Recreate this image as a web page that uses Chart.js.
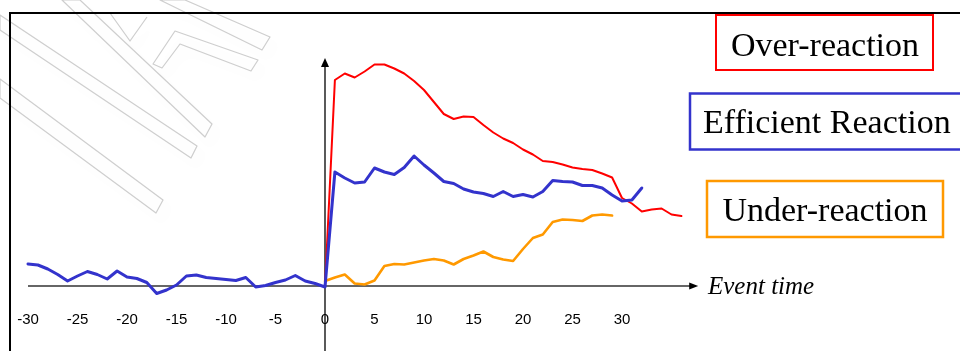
<!DOCTYPE html>
<html>
<head>
<meta charset="utf-8">
<style>
  html, body { margin: 0; padding: 0; background: #ffffff; overflow: hidden; }
  #wrap { width: 960px; height: 351px; position: relative; }
</style>
</head>
<body>
<div id="wrap"><canvas id="c" width="960" height="351"></canvas></div>
<script src="https://cdn.jsdelivr.net/npm/chart.js@4/dist/chart.umd.min.js"></script>
<script>
// Event days relative to the announcement (day 0)
const days = [
  -30, -29, -28, -27, -26, -25, -24, -23, -22, -21,
  -20, -19, -18, -17, -16, -15, -14, -13, -12, -11,
  -10, -9, -8, -7, -6, -5, -4, -3, -2, -1,
  0, 1, 2, 3, 4, 5, 6, 7, 8, 9,
  10, 11, 12, 13, 14, 15, 16, 17, 18, 19,
  20, 21, 22, 23, 24, 25, 26, 27, 28, 29,
  30, 31, 32, 33, 34, 35, 36
];

// Cumulative abnormal price path, one value per day (null = not plotted)
const efficientReaction = [
  2.2, 2.1, 1.7, 1.15, 0.5, 1.0, 1.45, 1.15, 0.7, 1.5,
  0.9, 0.75, 0.35, -0.75, -0.4, 0.1, 1.0, 1.1, 0.85, 0.75,
  0.65, 0.55, 0.85, -0.1, 0.05, 0.35, 0.6, 1.05, 0.5, 0.25,
  -0.1, 11.4, 10.8, 10.3, 10.4, 11.8, 11.4, 11.15, 11.85, 13.0,
  12.1, 11.3, 10.45, 10.25, 9.7, 9.4, 9.25, 8.95, 9.45, 8.95,
  9.15, 8.9, 9.45, 10.55, 10.45, 10.4, 10.05, 10.05, 9.8, 9.1,
  8.5, 8.6, 9.8, null, null, null, null
];

const overReaction = [
  null, null, null, null, null, null, null, null, null, null,
  null, null, null, null, null, null, null, null, null, null,
  null, null, null, null, null, null, null, null, null, null,
  -0.1, 20.6, 21.25, 20.85, 21.45, 22.15, 22.15, 21.75, 21.25, 20.5,
  19.6, 18.4, 17.2, 16.7, 16.95, 16.9, 16.1, 15.35, 14.75, 14.3,
  13.65, 13.15, 12.5, 12.4, 12.15, 11.85, 11.7, 11.6, 11.25, 10.85,
  8.8, 8.25, 7.45, 7.65, 7.75, 7.15, 7.0
];

const underReaction = [
  null, null, null, null, null, null, null, null, null, null,
  null, null, null, null, null, null, null, null, null, null,
  null, null, null, null, null, null, null, null, null, null,
  0.5, 0.85, 1.15, 0.25, 0.15, 0.55, 2.0, 2.2, 2.15, 2.35,
  2.55, 2.7, 2.55, 2.15, 2.7, 3.05, 3.45, 2.9, 2.65, 2.5,
  3.7, 4.8, 5.15, 6.4, 6.65, 6.6, 6.5, 7.05, 7.15, 7.05,
  null, null, null, null, null, null, null
];

// Tick labels shown under the event-time axis
const tickValues = [-30, -25, -20, -15, -10, -5, 0, 5, 10, 15, 20, 25, 30];

const axisTitle = 'Event time';

const toPoints = vals => days
  .map((d, i) => ({ x: d, y: vals[i] }))
  .filter(p => p.y !== null);

const SERIF = '"Liberation Serif", "Times New Roman", serif';
const SANS = '"Liberation Sans", Arial, sans-serif';

// Faint logo watermark in the upper-left corner of the slide
const watermarkPlugin = {
  id: 'watermark',
  beforeDraw(chart) {
    const ctx = chart.ctx;
    const shapes = [
      [[0, 79], [163, 200], [156, 213], [0, 98]],
      [[0, 15], [197, 146], [191, 158], [0, 30]],
      [[80, 0], [212, 124], [205, 137], [62, 0]],
      [[153, 64], [175, 31], [258, 60], [251, 71], [180, 44], [162, 68]],
      [[185, 0], [270, 37], [262, 50], [160, 0]]
    ];
    ctx.save();
    ctx.fillStyle = '#ffffff';
    ctx.fillRect(0, 0, chart.width, chart.height);
    ctx.lineJoin = 'round';
    ctx.strokeStyle = 'rgba(185,185,185,0.7)';
    ctx.lineWidth = 1.2;
    ctx.shadowColor = 'rgba(0,0,0,0.08)';
    ctx.shadowBlur = 12;
    ctx.shadowOffsetX = 6;
    ctx.shadowOffsetY = 8;
    shapes.forEach(s => {
      ctx.beginPath();
      s.forEach(([x, y], i) => (i ? ctx.lineTo(x, y) : ctx.moveTo(x, y)));
      ctx.closePath();
      ctx.stroke();
    });
    ctx.beginPath();
    ctx.moveTo(110, 13);
    ctx.lineTo(130, 41);
    ctx.lineTo(147, 17);
    ctx.stroke();
    ctx.restore();

    // slide frame: top and left rules
    ctx.save();
    ctx.strokeStyle = '#000000';
    ctx.lineWidth = 2;
    ctx.beginPath();
    ctx.moveTo(10, chart.height);
    ctx.lineTo(10, 13);
    ctx.lineTo(chart.width, 13);
    ctx.stroke();
    ctx.restore();
  }
};

// Arrowed axes crossing at event day 0
const axesPlugin = {
  id: 'arrowAxes',
  beforeDatasetsDraw(chart) {
    const { ctx, scales: { x, y } } = chart;
    const y0 = y.getPixelForValue(0);
    const x0 = x.getPixelForValue(0);
    const xStart = x.getPixelForValue(tickValues[0]);
    const xTip = chart.chartArea.right - 3;
    const yTip = chart.chartArea.top + 2;
    ctx.save();
    // horizontal axis
    ctx.strokeStyle = '#333333';
    ctx.lineWidth = 1.5;
    ctx.beginPath();
    ctx.moveTo(xStart, y0);
    ctx.lineTo(xTip - 6, y0);
    ctx.stroke();
    ctx.fillStyle = '#000000';
    ctx.beginPath();
    ctx.moveTo(xTip, y0);
    ctx.lineTo(xTip - 9, y0 - 3.5);
    ctx.lineTo(xTip - 9, y0 + 3.5);
    ctx.closePath();
    ctx.fill();
    // vertical axis
    ctx.strokeStyle = '#000000';
    ctx.lineWidth = 1.3;
    ctx.beginPath();
    ctx.moveTo(x0, chart.chartArea.bottom);
    ctx.lineTo(x0, yTip + 8);
    ctx.stroke();
    ctx.beginPath();
    ctx.moveTo(x0, yTip);
    ctx.lineTo(x0 - 4, yTip + 9);
    ctx.lineTo(x0 + 4, yTip + 9);
    ctx.closePath();
    ctx.fill();
    ctx.restore();
  },
  afterDraw(chart) {
    const { ctx, scales: { y } } = chart;
    const y0 = y.getPixelForValue(0);
    ctx.save();
    ctx.fillStyle = '#000000';
    ctx.font = 'italic 25px ' + SERIF;
    ctx.textAlign = 'left';
    ctx.textBaseline = 'alphabetic';
    ctx.fillText(axisTitle, 708, y0 + 8);
    ctx.restore();
  }
};

// Boxed series captions on the right
const captionPlugin = {
  id: 'captions',
  afterDraw(chart) {
    const ctx = chart.ctx;
    const boxes = {
      1: { x: 716, y: 15, w: 217, h: 55, tx: 825, ty: 56, align: 'center', lw: 2 },
      0: { x: 690, y: 93.5, w: 290, h: 56, tx: 703, ty: 133, align: 'left', lw: 2.5 },
      2: { x: 707, y: 181, w: 236, h: 56, tx: 825, ty: 221, align: 'center', lw: 2.5 }
    };
    ctx.save();
    ctx.font = '34px ' + SERIF;
    ctx.textBaseline = 'alphabetic';
    chart.data.datasets.forEach((ds, i) => {
      const b = boxes[i];
      ctx.strokeStyle = ds.borderColor;
      ctx.lineWidth = b.lw;
      ctx.strokeRect(b.x, b.y, b.w, b.h);
      ctx.fillStyle = '#000000';
      ctx.textAlign = b.align;
      ctx.fillText(ds.label, b.tx, b.ty);
    });
    ctx.restore();
  }
};

new Chart(document.getElementById('c'), {
  type: 'line',
  data: {
    datasets: [
      {
        label: 'Efficient Reaction',
        data: toPoints(efficientReaction),
        borderColor: '#3333cc',
        borderWidth: 3
      },
      {
        label: 'Over-reaction',
        data: toPoints(overReaction),
        borderColor: '#ff0000',
        borderWidth: 2
      },
      {
        label: 'Under-reaction',
        data: toPoints(underReaction),
        borderColor: '#ff9900',
        borderWidth: 2.6
      }
    ]
  },
  options: {
    responsive: false,
    animation: false,
    devicePixelRatio: 1,
    layout: { padding: { left: 13.15, right: 258.8, top: 56, bottom: 0 } },
    elements: {
      point: { radius: 0, hoverRadius: 0 },
      line: { tension: 0, fill: false, borderJoinStyle: 'round', borderCapStyle: 'round' }
    },
    plugins: {
      legend: { display: false },
      tooltip: { enabled: false },
      title: { display: false }
    },
    scales: {
      x: {
        type: 'linear',
        min: -31.5,
        max: 38,
        position: { y: 0 },
        grid: { display: false, drawTicks: false },
        border: { display: false },
        afterBuildTicks: axis => { axis.ticks = tickValues.map(v => ({ value: v })); },
        afterFit: axis => {
          axis.paddingLeft = 0;
          axis.paddingRight = 0;
        },
        ticks: {
          autoSkip: false,
          maxRotation: 0,
          padding: 25,
          color: '#000000',
          font: { family: SANS, size: 15 }
        }
      },
      y: {
        type: 'linear',
        min: -6.5,
        max: 23,
        display: false
      }
    }
  },
  plugins: [watermarkPlugin, axesPlugin, captionPlugin]
});
</script>
</body>
</html>
